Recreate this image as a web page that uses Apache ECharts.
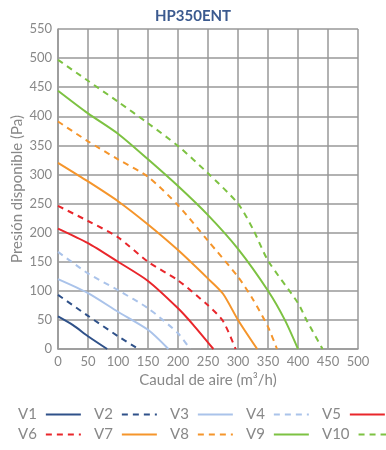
<!DOCTYPE html>
<html>
<head>
<meta charset="utf-8">
<script src="https://cdn.jsdelivr.net/npm/echarts@6/dist/echarts.min.js"></script>
<style>
  html, body { margin: 0; padding: 0; background: #fff; }
  #chart { width: 386px; height: 450px; }
</style>
</head>
<body>
<div id="chart"></div>
<script>
// curvas [caudal, presion]
var v1 = [[0,56],[25,41],[50,22],[82,0]];
var v2 = [[0,93],[50,57],[100,22],[134,0]];
var v3 = [[0,120],[50,96],[100,64],[150,33],[184,0]];
var v4 = [[0,167],[50,130],[100,101],[150,70],[200,27],[220,0]];
var v5 = [[0,207],[50,182],[100,150],[150,117],[200,70],[225,42],[259,0]];
var v6 = [[0,246],[50,220],[100,192],[150,150],[200,118],[250,75],[275,48],[296,0]];
var v7 = [[0,320],[50,288],[100,254],[150,214],[200,170],[250,121],[275,95],[300,50],[332,0]];
var v8 = [[0,391],[50,357],[100,326],[150,296],[200,247],[250,186],[300,124],[325,85],[350,38],[365,0]];
var v9 = [[0,444],[50,405],[100,370],[150,326],[200,280],[250,230],[300,172],[350,100],[378,50],[400,0]];
var v10 = [[0,497],[50,461],[100,425],[150,388],[200,349],[250,302],[300,250],[325,206],[350,152],[400,79],[414,50],[441,0]];

var names = ['V1','V2','V3','V4','V5','V6','V7','V8','V9','V10'];
var curves = [v1, v2, v3, v4, v5, v6, v7, v8, v9, v10];
var colors = ['#2f5189','#2f5189','#aac3ea','#aac3ea','#e9262b','#e9262b','#f5952b','#f5952b','#7dc242','#7dc242'];
var dashed = [false, true, false, true, false, true, false, true, false, true];

var myChart = echarts.init(document.getElementById('chart'));
var fontFam = 'Lato, "Noto Sans", sans-serif';

var series = [];
var legends = [];
for (var i = 0; i < names.length; i++) {
    series.push({
        name: names[i],
        type: 'line',
        data: curves[i],
        smooth: 0.25,
        symbol: 'none',
        lineStyle: {
            color: colors[i],
            width: 2,
            type: dashed[i] ? [6, 5] : 'solid'
        },
        itemStyle: { color: colors[i] }
    });
    // texto antes de la linea, 5 por fila
    var col = i % 5;
    var row = Math.floor(i / 5);
    legends.push({
        data: [names[i]],
        left: 18 + col * 76,
        top: 407 + row * 20,
        align: 'right',
        itemWidth: 35,
        itemHeight: 14,
        itemGap: 0,
        padding: 0,
        itemStyle: { opacity: 0 },
        textStyle: { color: '#888', fontSize: 15, fontFamily: fontFam, padding: [0, 4, 0, 0] },
        selectedMode: false
    });
}

var option = {
    animation: false,
    title: {
        text: 'HP350ENT',
        left: 'center',
        top: 4,
        textStyle: { color: '#3b5a8f', fontSize: 15, fontWeight: 'bold', fontFamily: fontFam }
    },
    legend: legends,
    grid: { left: 58, right: 28, top: 29, bottom: 101, outerBoundsMode: 'none' },
    xAxis: {
        type: 'value',
        min: 0,
        max: 500,
        interval: 50,
        name: 'Caudal de aire (m³/h)',
        nameLocation: 'middle',
        nameGap: 24,
        nameMoveOverlap: false,
        nameTextStyle: { color: '#888', fontSize: 15, fontFamily: fontFam },
        axisLine: { lineStyle: { color: '#999', width: 1.5 } },
        axisTick: { show: false },
        axisLabel: { color: '#888', fontSize: 13, fontFamily: fontFam, margin: 6 },
        splitLine: { lineStyle: { color: '#999', width: 1.5 } }
    },
    yAxis: {
        type: 'value',
        min: 0,
        max: 550,
        interval: 50,
        name: 'Presión disponible (Pa)',
        nameLocation: 'middle',
        nameGap: 33,
        nameMoveOverlap: false,
        nameTextStyle: { color: '#888', fontSize: 15, fontFamily: fontFam },
        axisLine: { show: true, lineStyle: { color: '#999', width: 1.5 } },
        axisTick: { show: false },
        axisLabel: { color: '#888', fontSize: 13, fontFamily: fontFam, margin: 6 },
        splitLine: { lineStyle: { color: '#999', width: 1.5 } }
    },
    series: series
};

myChart.setOption(option);
</script>
</body>
</html>
